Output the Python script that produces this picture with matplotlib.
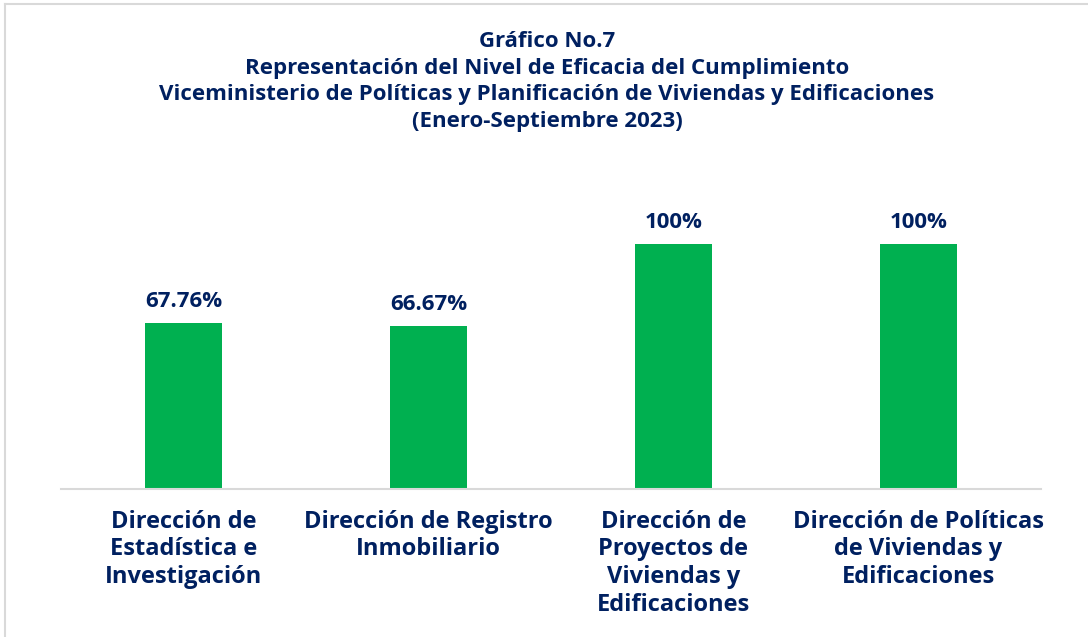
import matplotlib.pyplot as plt
from matplotlib.lines import Line2D

categorias = ['Dirección de\nEstadística e\nInvestigación',
              'Dirección de Registro\nInmobiliario',
              'Dirección de\nProyectos de\nViviendas y\nEdificaciones',
              'Dirección de Políticas\nde Viviendas y\nEdificaciones']
valores = [67.76, 66.67, 100, 100]
etiquetas = ['67.76%', '66.67%', '100%', '100%']
titulo = ('Gráfico No.7\n'
          'Representación del Nivel de Eficacia del Cumplimiento\n'
          'Viceministerio de Políticas y Planificación de Viviendas y Edificaciones\n'
          '(Enero-Septiembre 2023)')

azul = '#002060'
verde = '#00B050'
gris = '#D9D9D9'

plt.rcParams['font.family'] = ['Open Sans', 'DejaVu Sans']
plt.rcParams['font.weight'] = 'bold'

W, H = 1088, 637
fig = plt.figure(figsize=(W / 100, H / 100), dpi=100)

# ejes: linea base en y=489 px, de x=61 a x=1041
y0 = 489
ymax = 130
alto = 245 * ymax / 100
ax = fig.add_axes([61 / W, (H - y0) / H, 980 / W, alto / H])

x = range(len(valores))
ax.bar(x, valores, width=0.314, color=verde, zorder=2)
for i, v in enumerate(valores):
    ax.text(i, v + 4.5, etiquetas[i], ha='center', va='bottom',
            fontsize=16, fontweight='bold', color=azul)

ax.set_xlim(-0.5, len(valores) - 0.5)
ax.set_ylim(0, ymax)
ax.set_yticks([])
ax.set_xticks(list(x))
ax.set_xticklabels(categorias, fontsize=17, fontweight='bold', color=azul,
                   linespacing=1.2)
ax.tick_params(axis='x', length=0, pad=15)
for s in ['top', 'right', 'left']:
    ax.spines[s].set_visible(False)
ax.spines['bottom'].set_color(gris)
ax.spines['bottom'].set_linewidth(1.5)

fig.text(547 / W, 1 - 31 / H, titulo, ha='center', va='top', fontsize=16,
         fontweight='bold', color=azul, linespacing=1.355)

# marco del grafico
fig.add_artist(Line2D([5 / W, 1], [1 - 4 / H, 1 - 4 / H], color=gris, lw=1.5))
fig.add_artist(Line2D([5 / W, 5 / W], [0, 1 - 4 / H], color=gris, lw=1.5))

fig.savefig('out.png', dpi=100)
